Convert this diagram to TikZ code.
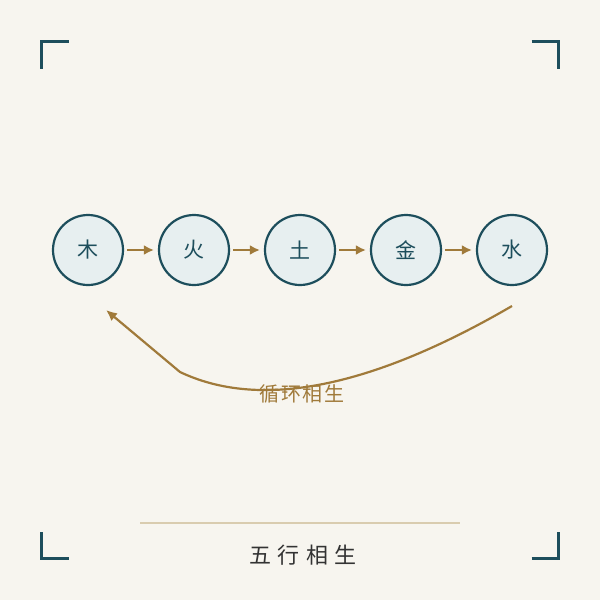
\documentclass[tikz,border=0pt]{standalone}
\usepackage{fontspec}
\setmainfont{Noto Sans CJK SC}
\newfontfamily\cjk{Noto Sans CJK SC}
\newfontfamily\cjklabel[LetterSpace=8]{Noto Sans CJK SC}
\newfontfamily\cjktitle[LetterSpace=28]{Noto Sans CJK SC}
\usepackage{tikz}
\usetikzlibrary{arrows.meta}
\usepackage{xcolor}
\definecolor{bgpaper}{HTML}{F7F5EF}
\definecolor{tealdark}{HTML}{1D4E5C}
\definecolor{tealfill}{HTML}{E7EFF0}
\definecolor{goldbrown}{HTML}{A07A3A}
\definecolor{tanline}{HTML}{D9CCAF}
\definecolor{titlegray}{HTML}{333333}
\tikzstyle{element}=[circle, draw=tealdark, line width=2.2pt, fill=tealfill, minimum size=70pt, inner sep=0pt, text=tealdark, font=\cjk\fontsize{21}{21}\selectfont]
\tikzstyle{flow}=[-{Latex[length=10pt,width=10pt]}, goldbrown, line width=2.2pt, shorten <=3pt, shorten >=4pt]
\tikzstyle{cornermark}=[tealdark, line width=3pt]
\newcommand{\cornerBox}[3]{
	\draw[cornermark] ($#1+(#2,0)$) -- #1 -- ($#1+(0,#3)$);
}
\usetikzlibrary{calc}

\begin{document}
\begin{tikzpicture}[x=1pt,y=-1pt]
	\fill[bgpaper] (0,0) rectangle (600,600);
	\useasboundingbox (0,0) rectangle (600,600);
	\cornerBox{(41.5,41.5)}{27}{27}
	\cornerBox{(558.5,41.5)}{-27}{27}
	\cornerBox{(41.5,558.5)}{27}{-27}
	\cornerBox{(558.5,558.5)}{-27}{-27}
	\node[element] (mu) at (88,250) {木};
	\node[element] (huo) at (194,250) {火};
	\node[element] (tu) at (300,250) {土};
	\node[element] (jin) at (406,250) {金};
	\node[element] (shui) at (512,250) {水};
	\draw[flow] (mu) -- (huo);
	\draw[flow] (huo) -- (tu);
	\draw[flow] (tu) -- (jin);
	\draw[flow] (jin) -- (shui);
	\coordinate (cycstart) at (512,306);
	\coordinate (cycbend) at (180,372);
	\coordinate (cycend) at (106,310);
	\draw[-{Latex[length=11pt,width=10pt]}, goldbrown, line width=2.2pt] (cycstart) .. controls (371,388) and (260,410) .. (cycbend) -- (cycend);
	\node[text=goldbrown, font=\cjklabel\fontsize{20}{20}\selectfont] (cyclabel) at (302,394) {循环相生};
	\coordinate (ruleL) at (140,523);
	\coordinate (ruleR) at (460,523);
	\draw[tanline, line width=1.5pt] (ruleL) -- (ruleR);
	\node[text=titlegray, font=\cjktitle\fontsize{22}{22}\selectfont] (title) at (303,555) {五行相生};
\end{tikzpicture}
\end{document}
